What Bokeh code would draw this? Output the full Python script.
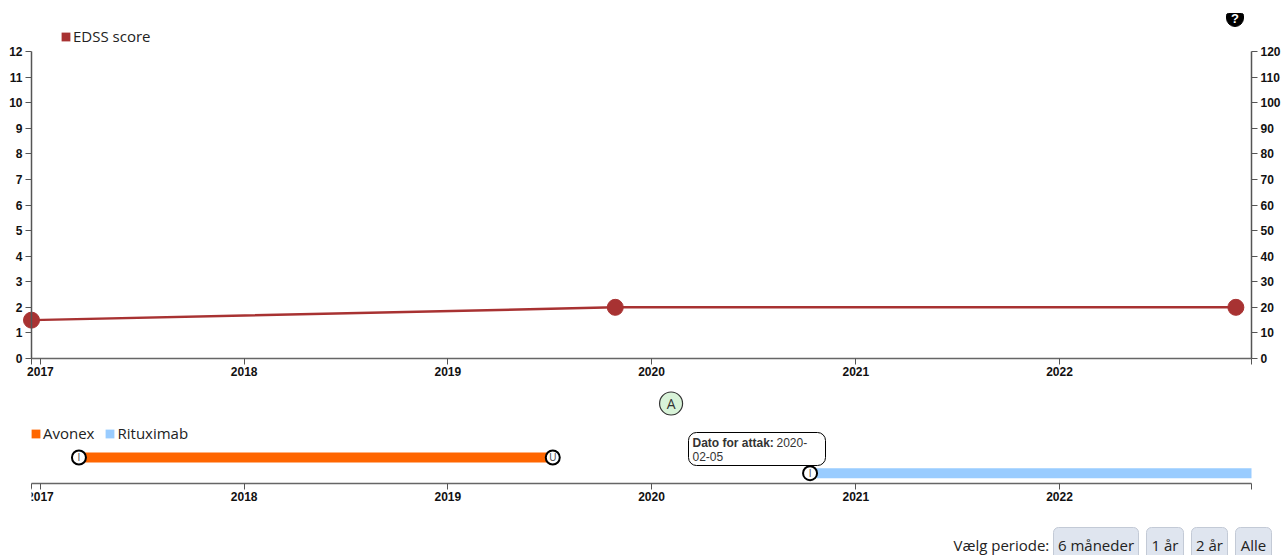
from datetime import datetime as D
from bokeh.plotting import figure
from bokeh.layouts import column
from bokeh.models import (Range1d, LinearAxis, FixedTicker, BoxAnnotation, Label, Legend, LegendItem)
from bokeh.core.properties import value
from bokeh.embed import file_html
from bokeh.resources import INLINE

def ms(s):
    return (D.fromisoformat(s) - D(1970, 1, 1)).total_seconds() * 1000

# ---- data
years = ["2017", "2018", "2019", "2020", "2021", "2022"]
axis_start = "2016-12-16"
axis_end = "2022-12-11"
edss_dates = ["2016-12-16", "2019-10-28", "2022-11-13"]
edss_values = [1.5, 2, 2]
edss_ticks = list(range(0, 13))
right_ticks = list(range(0, 130, 10))
treatments = ["Avonex", "Rituximab"]
treat_start = ["2017-03-11", "2020-10-11"]
treat_end = ["2019-07-08", "2022-12-11"]
treat_start_mark = ["I", "I"]
attack_date = "2020-02-05"
period_label = "Vælg periode:"
period_buttons = ["6 måneder", "1 år", "2 år", "Alle"]

# ---- layout / style
W = 1282
X0, X1 = 31, 1251          # axis extent on the page
Y_TOP, Y_BASE = 51, 358    # EDSS axis extent on the page
SPLIT = 380                # page y where second figure starts
TOP_H = SPLIT
BOT_H = 175
AX = "#555555"
TICKF = "Liberation Sans"
UI = "Open Sans"
INK = "#222222"
BROWN = "#a83232"
ORANGE = "#ff6600"
BLUE = "#99ccff"

xr = (ms(axis_start), ms(axis_end))
per_px = (xr[1] - xr[0]) / (X1 - X0)
full_x = Range1d(xr[0] - X0 * per_px, xr[1] + (W - X1) * per_px)
tick_ms = [ms(y + "-01-01") for y in years]
ticks = [xr[0]] + tick_ms + [xr[1]]
over = {t: y for t, y in zip(tick_ms, years)}
over[xr[0]] = ""
over[xr[1]] = ""

def style_axis(ax, standoff):
    ax.axis_line_color = AX
    ax.axis_line_width = 1.5
    ax.major_tick_line_color = AX
    ax.major_tick_out = 6
    ax.major_tick_in = 0
    ax.minor_tick_line_color = None
    ax.major_label_text_font = TICKF
    ax.major_label_text_font_style = "bold"
    ax.major_label_text_font_size = "12px"
    ax.major_label_text_color = "#111111"
    ax.major_label_standoff = standoff

def style_x(ax):
    ax.ticker = FixedTicker(ticks=ticks)
    ax.major_label_overrides = over
    ax.bounds = xr
    style_axis(ax, 2)
    ax.axis_line_color = "#666666"

def box(l, t, r, b, oy=0, **kw):
    return BoxAnnotation(left=l, right=r, top=t - oy, bottom=b - oy, left_units="canvas", right_units="canvas",
                         top_units="canvas", bottom_units="canvas", fill_alpha=1, line_alpha=1, **kw)

def lab(x, y, text, oy=0, size="15px", font=UI, style="normal", color=INK, align="left"):
    return Label(x=x, y=y - oy, x_units="canvas", y_units="canvas", text=text, text_font=font,
                 text_font_size=size, text_font_style=style, text_color=color, text_align=align,
                 text_baseline="middle")

# ---- top chart: frame fills the whole canvas, axes sit at fixed places inside it
per_unit = (Y_BASE - Y_TOP) / 12
y_lo = -(SPLIT - Y_BASE) / per_unit
y_hi = 12 + Y_TOP / per_unit
p1 = figure(width=W, height=TOP_H, x_range=full_x, y_range=Range1d(y_lo, y_hi), output_backend="svg",
            toolbar_location=None, min_border_left=0, min_border_right=0, min_border_top=0,
            min_border_bottom=0, x_axis_location=None, y_axis_location=None)
p1.outline_line_color = None
p1.grid.visible = False
p1.background_fill_color = None
p1.border_fill_color = None
xax1 = LinearAxis(fixed_location=0)
style_x(xax1)
p1.add_layout(xax1, "below")
lax = LinearAxis(ticker=FixedTicker(ticks=edss_ticks), fixed_location=xr[0], bounds=(0, 12))
style_axis(lax, 3)
p1.add_layout(lax, "left")
p1.extra_y_ranges = {"r": Range1d(10 * y_lo, 10 * y_hi)}
rax = LinearAxis(y_range_name="r", ticker=FixedTicker(ticks=right_ticks), fixed_location=xr[1], bounds=(0, 120))
style_axis(rax, 3)
p1.add_layout(rax, "right")

xs = [ms(d) for d in edss_dates]
# zero-width bars: nothing shows in the plot, but the legend gets its filled square key
key = p1.hbar(y=edss_values, left=xs, right=xs, height=0.1, fill_color=BROWN, line_color=None)
p1.line(xs, edss_values, line_color=BROWN, line_width=2.5)
p1.scatter(xs, edss_values, size=16, marker="circle", fill_color=BROWN, line_color=BROWN)
leg1 = Legend(items=[LegendItem(label="EDSS score", renderers=[key])], location=(60, 334),
              background_fill_alpha=0, border_line_color=None, glyph_width=11, glyph_height=11,
              label_standoff=2, padding=0, margin=0, label_text_font=UI, label_text_font_size="15px",
              label_text_color=INK, label_height=14)
p1.add_layout(leg1, "center")

p1.add_layout(box(1226, 13, 1243, 26, fill_color="#000000", line_color="#000000", border_radius=(2, 2, 9, 9)))
p1.add_layout(lab(1234.5, 18, "?", size="13px", font=TICKF, style="bold", color="#ffffff", align="center"))

# ---- bottom chart: 10 px per y unit, axis at y = 0
Y2_BASE = 483
p2 = figure(width=W, height=BOT_H, x_range=full_x, y_range=Range1d(-(SPLIT + BOT_H - Y2_BASE) / 10, (Y2_BASE - SPLIT) / 10),
            output_backend="svg", toolbar_location=None, min_border_left=0, min_border_right=0, min_border_top=0,
            min_border_bottom=0, x_axis_location=None, y_axis_location=None)
p2.outline_line_color = None
p2.grid.visible = False
p2.background_fill_color = None
p2.border_fill_color = None
xax2 = LinearAxis(fixed_location=0)
style_x(xax2)
p2.add_layout(xax2, "below")

ROW = {"Avonex": 2.6, "Rituximab": 1.03}
COL = {"Avonex": ORANGE, "Rituximab": BLUE}
items = []
for name, s, e, m in zip(treatments, treat_start, treat_end, treat_start_mark):
    y = ROW[name]
    r = p2.hbar(y=[y], left=[ms(s)], right=[ms(e)], height=1.0, fill_color=COL[name], line_color=None)
    items.append(LegendItem(label=name, renderers=[r]))
    p2.scatter([ms(s)], [y], size=14, marker="circle", fill_color="#ffffff", line_color="#000000", line_width=2)
    p2.text([ms(s)], [y], text=[m], text_align="center", text_baseline="middle", text_font_size="10px",
            text_color="#555555")
y = ROW["Avonex"]
p2.scatter([ms(treat_end[0])], [y], size=14, marker="circle", fill_color="#ffffff", line_color="#000000", line_width=2)
p2.text([ms(treat_end[0])], [y], text=["U"], text_align="center", text_baseline="middle", text_font_size="10px",
        text_color="#555555")

leg2 = Legend(items=items, location=(30, 112), orientation="horizontal", background_fill_alpha=0,
              border_line_color=None, glyph_width=11, glyph_height=11, label_standoff=2, spacing=10,
              padding=0, margin=0, label_text_font=UI, label_text_font_size="15px", label_text_color=INK,
              label_height=14)
p2.add_layout(leg2, "center")

A_Y = 8.0
p2.scatter([ms(attack_date)], [A_Y], size=23, marker="circle", fill_color="#d8f3d8", line_color="#333333", line_width=1.2)
p2.text([ms(attack_date)], [A_Y], text=["A"], text_align="center", text_baseline="middle", text_font_size="14px",
        text_font=value(UI), text_color="#333333")

# tooltip
OY = SPLIT
p2.add_layout(box(688, 432, 825, 465, OY, fill_color="#ffffff", line_color="#000000", line_width=1, border_radius=8))
p2.add_layout(lab(692, 442, "Dato for attak:", OY, size="12px", font=TICKF, style="bold", color="#333333"))
p2.add_layout(lab(776, 442, "2020-", OY, size="12px", font=TICKF, color="#333333"))
p2.add_layout(lab(692, 456, "02-05", OY, size="12px", font=TICKF, color="#333333"))

# the first year's label is cut at the axis start in the reference
p2.add_layout(box(20, 488, 31, 506, OY, fill_color="#ffffff", line_color=None))

# period selector
p2.add_layout(lab(953, 544, period_label, OY))
BTN = [(1053, 1138), (1146, 1183), (1191, 1227), (1235, 1271)]
for (a, b), t in zip(BTN, period_buttons):
    p2.add_layout(box(a, 527, b, 565, OY, fill_color="#dfe5ef", line_color="#c3cad6", line_width=1, border_radius=5))
    p2.add_layout(lab((a + b) / 2, 544, t, OY, align="center"))

layout = column(p1, p2, spacing=0)
open("out.html", "w").write(file_html(layout, INLINE))
